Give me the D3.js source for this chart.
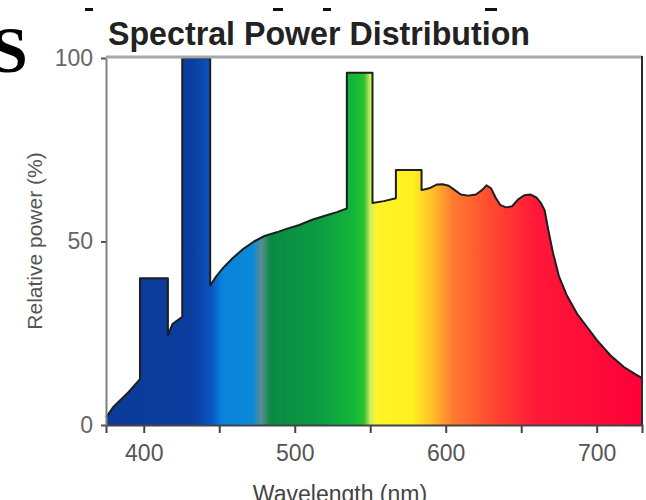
<!DOCTYPE html>
<html>
<head>
<meta charset="utf-8">
<script src="https://cdn.jsdelivr.net/npm/d3@7"></script>
<style>
  body { margin: 0; background: #fff; }
  svg { display: block; }
</style>
</head>
<body>
<div id="chart"></div>
<script>
// Spectrum outline (wavelength in nm, relative power in %)
const wavelengths = [375, 380, 390, 397.5, 397.5, 416, 416, 419, 425.5, 425.5, 444, 444,
  448, 453, 459, 466, 473, 480, 488, 495, 503, 512, 520, 528, 534.5, 534.5, 551.5, 551.5,
  559, 567, 567, 584, 584, 589, 594, 598, 602, 606, 610, 615, 620, 624, 627, 630, 633, 636,
  640, 644, 648, 652, 656, 660, 663, 665.5, 668, 671, 675, 680, 687, 694, 700, 709, 718, 725, 730];
const power = [2, 5, 9, 12.5, 40, 40, 24.5, 27.5, 29.5, 100, 100, 38,
  40.5, 43, 45.5, 48, 50, 51.5, 52.5, 53.5, 54.5, 56, 57, 58, 59, 96, 96, 60.5,
  61, 61.8, 69.5, 69.5, 64, 64.5, 65.5, 65.6, 65.2, 64, 62.8, 62.5, 62.8, 64, 65.3, 64.5, 62, 60,
  59.3, 59.6, 61.5, 62.6, 62.8, 62, 60.5, 58.5, 53, 47, 40.5, 35.5, 30.3, 26.5, 23.2, 19, 15.8, 14, 12.8];

// Spectral colour stops
const stopWavelengths = [375, 432, 445, 452, 472, 478, 484, 515, 540, 546, 550, 554, 578, 590, 605, 630, 660, 730];
const stopColors = ["#0b3a98", "#0b3d9e", "#0a55c2", "#0a82dc", "#0a8ad8", "#5a8c90", "#0a8a45", "#0c9a42",
  "#14b838", "#30c030", "#c8f060", "#fff428", "#fff020", "#ffc428", "#ff7a30", "#ff4a30", "#ff1838", "#ff0038"];

const xTicks = [400, 450, 500, 550, 600, 650, 700];
const xTickLabels = ["400", "", "500", "", "600", "", "700"];
const yTicks = [0, 50, 100];

const W = 646, H = 500;
const margin = {top: 58, right: 4, bottom: 75, left: 106};

const svg = d3.select("#chart").append("svg")
  .attr("width", W).attr("height", H);

const x = d3.scaleLinear().domain([375, 730]).range([margin.left, W - margin.right]);
const y = d3.scaleLinear().domain([0, 100]).range([H - margin.bottom, margin.top]);

// gradient across the wavelengths
const grad = svg.append("defs").append("linearGradient")
  .attr("id", "spectrum")
  .attr("gradientUnits", "userSpaceOnUse")
  .attr("x1", x(375)).attr("x2", x(730))
  .attr("y1", 0).attr("y2", 0);
grad.selectAll("stop")
  .data(stopWavelengths)
  .enter().append("stop")
  .attr("offset", d => (d - 375) / (730 - 375))
  .attr("stop-color", (d, i) => stopColors[i]);

const pts = wavelengths.map((w, i) => [w, power[i]]);

svg.append("path")
  .datum(pts)
  .attr("fill", "url(#spectrum)")
  .attr("d", d3.area().x(d => x(d[0])).y0(y(0)).y1(d => y(d[1])));

svg.append("path")
  .datum(pts)
  .attr("fill", "none")
  .attr("stroke", "#1e1e1e")
  .attr("stroke-width", 2)
  .attr("stroke-linejoin", "round")
  .attr("d", d3.line().x(d => x(d[0])).y(d => y(d[1])));

// frame
svg.append("line").attr("x1", x(375)).attr("x2", x(730)).attr("y1", y(100) - 1).attr("y2", y(100) - 1)
  .attr("stroke", "#a8a8a8").attr("stroke-width", 3);
svg.append("line").attr("x1", x(730)).attr("x2", x(730)).attr("y1", y(100) - 2).attr("y2", y(0))
  .attr("stroke", "#2a2a2a").attr("stroke-width", 2);

// x axis
const xAxis = svg.append("g")
  .attr("transform", `translate(0,${y(0)})`)
  .call(d3.axisBottom(x).tickValues(xTicks).tickSize(8).tickPadding(12)
    .tickFormat((d, i) => xTickLabels[i]));
xAxis.select(".domain").attr("stroke", "#444").attr("stroke-width", 2);
xAxis.selectAll(".tick line").attr("stroke", "#444").attr("stroke-width", 2);
xAxis.selectAll(".tick text")
  .attr("font-family", "Liberation Sans Narrow, Liberation Sans, sans-serif")
  .attr("font-size", 23).attr("fill", "#555");

// y axis
const yAxis = svg.append("g")
  .attr("transform", `translate(${x(375)},0)`)
  .call(d3.axisLeft(y).tickValues(yTicks).tickSize(5).tickPadding(8).tickSizeOuter(0));
yAxis.select(".domain").attr("stroke", "#808080").attr("stroke-width", 2);
yAxis.selectAll(".tick line").attr("stroke", "#555").attr("stroke-width", 2);
yAxis.selectAll(".tick text")
  .attr("font-family", "Liberation Sans Narrow, Liberation Sans, sans-serif")
  .attr("font-size", 23).attr("fill", "#666");

// titles
svg.append("text")
  .attr("x", 108).attr("y", 45)
  .attr("font-family", "Liberation Sans Narrow, Liberation Sans, sans-serif")
  .attr("font-weight", "bold")
  .attr("font-size", 33)
  .attr("fill", "#222")
  .attr("textLength", 422)
  .attr("lengthAdjust", "spacingAndGlyphs")
  .text("Spectral Power Distribution");

svg.append("text")
  .attr("x", 340).attr("y", 502)
  .attr("text-anchor", "middle")
  .attr("font-family", "Liberation Sans Narrow, Liberation Sans, sans-serif")
  .attr("font-size", 23).attr("fill", "#444")
  .text("Wavelength (nm)");

svg.append("text")
  .attr("transform", "translate(42,241) rotate(-90)")
  .attr("text-anchor", "middle")
  .attr("font-family", "Liberation Sans Narrow, Liberation Sans, sans-serif")
  .attr("font-size", 21).attr("fill", "#555")
  .text("Relative power (%)");

// page fragments around the figure
svg.append("text")
  .attr("x", -9).attr("y", 72)
  .attr("font-family", "Liberation Serif, serif")
  .attr("font-weight", "bold")
  .attr("font-size", 66)
  .attr("fill", "#000")
  .text("S");

svg.selectAll(".frag")
  .data([[85, 8], [273, 10], [323, 8], [485, 12]])
  .enter().append("rect")
  .attr("x", d => d[0]).attr("y", 8)
  .attr("width", d => d[1]).attr("height", 3)
  .attr("fill", "#111");
</script>
</body>
</html>
